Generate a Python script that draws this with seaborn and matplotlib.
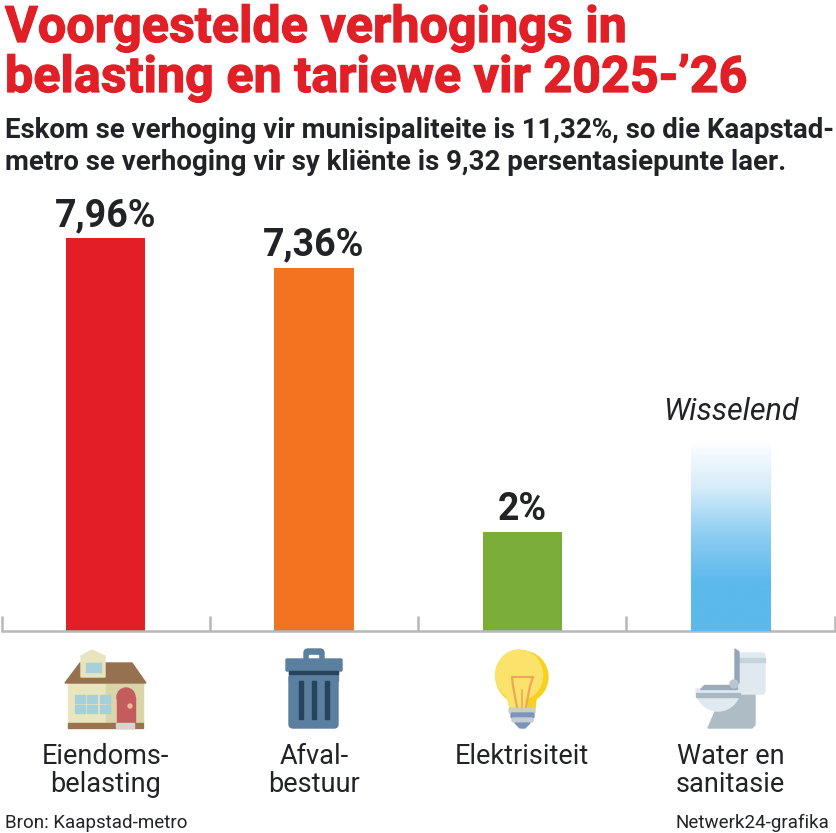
"""
Voorgestelde verhogings in belasting en tariewe vir 2025-'26
Bar chart with icons under each category.
"""

import numpy as np
import pandas as pd
import matplotlib
matplotlib.use("Agg")
import matplotlib.pyplot as plt
import matplotlib.patheffects as pe
from matplotlib.colors import LinearSegmentedColormap
from matplotlib.patches import Circle, Ellipse, FancyBboxPatch, Polygon, Rectangle, Wedge
import seaborn as sns

# Data
categories = ["Eiendoms-\nbelasting", "Afval-\nbestuur", "Elektrisiteit", "Water en\nsanitasie"]
values = [7.96, 7.36, 2.0, 3.87]  # water has no real figure, bar height read off the picture
value_labels = ["7,96%", "7,36%", "2%", "Wisselend"]
bar_colors = ["#e31e26", "#f47320", "#7aae38", "#5bb9ec"]

title_lines = ["Voorgestelde verhogings in", "belasting en tariewe vir 2025-’26"]
subtitle_lines = [
    "Eskom se verhoging vir munisipaliteite is 11,32%, so die Kaapstad-",
    "metro se verhoging vir sy kliënte is 9,32 persentasiepunte laer.",
]
source_left = "Bron: Kaapstad-metro"
source_right = "Netwerk24-grafika"

RED = "#e11f27"
DARK = "#222326"
GREY = "#b8b8b8"
W, H = 836, 833


def draw_house(ax):
    ax.add_patch(Rectangle((68, 683), 38, 40, color="#e9e6bd"))
    ax.add_patch(Rectangle((106, 683), 37, 40, color="#d9d5a9"))
    ax.add_patch(Polygon([(65, 683), (80, 663), (132, 663), (146, 683)], color="#96714f"))
    ax.add_patch(Polygon([(81, 677), (81, 656), (92, 650), (105, 656), (105, 677)], color="#e8e4bd"))
    for x in (85.5, 91, 96.5):
        ax.add_patch(Rectangle((x, 663), 4.5, 9, color="#a9cfd8"))
    for x in (75, 87, 100):
        for y in (695, 705):
            ax.add_patch(Rectangle((x, y), 10, 8, color="#a6cfdc"))
    ax.add_patch(Rectangle((117, 697), 18, 26, color="#c45c5e"))
    ax.add_patch(Circle((126, 697), 9, color="#c45c5e"))
    ax.add_patch(Circle((130, 706), 2, color="#f0b9a0"))
    ax.add_patch(Rectangle((68, 723), 75, 5, color="#9b7350"))
    ax.add_patch(Rectangle((116, 723), 18, 5, color="#d5d5d0"))


def draw_bin(ax):
    blue, navy = "#5b7f9f", "#26445e"
    ax.add_patch(FancyBboxPatch((306, 651), 16, 10, boxstyle="round,pad=2,rounding_size=4", color=blue))
    ax.add_patch(Rectangle((309, 655), 9, 5, color="white"))
    ax.add_patch(FancyBboxPatch((287, 660), 54, 10, boxstyle="round,pad=1,rounding_size=1", color=blue))
    ax.add_patch(FancyBboxPatch((293, 678), 41, 46, boxstyle="round,pad=4,rounding_size=4", color=blue))
    ax.add_patch(Rectangle((289, 671), 49, 10, color=blue))
    ax.add_patch(Rectangle((289, 671), 49, 3, color=navy))
    for x in (301, 314, 327):
        ax.add_patch(Rectangle((x - 2, 681), 4, 38, color=navy))


def draw_bulb(ax):
    ax.add_patch(Polygon([(510, 708), (535, 708), (537, 690), (508, 690)], color="#f6d21f"))
    ax.add_patch(Circle((522, 677), 26, color="#f6d21f"))
    ax.add_patch(Ellipse((519, 675), 47, 50, color="#fbe26a"))
    ax.add_patch(Polygon([(510, 708), (527, 708), (522, 692), (505, 690)], color="#fbe26a"))
    ax.plot([517, 513, 512, 533, 530, 526], [707, 686, 677, 677, 686, 707], color="#eda75a", lw=1.6)
    ax.plot([522, 522], [690, 707], color="#eda75a", lw=1.2)
    ax.add_patch(FancyBboxPatch((510, 709), 24, 3, boxstyle="round,pad=1,rounding_size=1.5", color="#c9cfc0"))
    ax.add_patch(FancyBboxPatch((512, 714), 21, 3, boxstyle="round,pad=1,rounding_size=1.5", color="#7d93bd"))
    ax.add_patch(FancyBboxPatch((513, 719), 19, 2, boxstyle="round,pad=1,rounding_size=1.5", color="#c4ccd8"))
    ax.add_patch(Polygon([(515, 723), (530, 723), (525, 728), (520, 728)], color="#7d93bd"))


def draw_toilet(ax):
    light, mid, grey = "#e1e9f0", "#c7d3dc", "#aebcc6"
    ax.add_patch(Polygon([(737, 693), (755, 693), (755, 725), (752, 728), (708, 728), (715, 712)], color=grey))
    ax.add_patch(FancyBboxPatch((741, 655), 22, 37, boxstyle="round,pad=2,rounding_size=3", color=light))
    ax.add_patch(Rectangle((739, 658), 26, 4, color=mid))
    ax.add_patch(Wedge((718, 689), 22, 0, 180, color=light))
    ax.add_patch(Rectangle((696, 693), 44, 4, color="#aab8c4"))
    ax.add_patch(Polygon([(735, 649), (739, 652), (739, 683), (735, 683)], color="#93a6b5"))
    ax.add_patch(Polygon([(704, 685), (737, 685), (737, 689), (700, 689)], color="#9aabb9"))
    ax.add_patch(Circle((734, 684), 4, color="#b9c6d0"))


def main():
    sns.set_theme(style="white")
    plt.rcParams["font.family"] = ["Roboto", "DejaVu Sans"]

    df = pd.DataFrame({"kategorie": categories, "waarde": values})

    fig = plt.figure(figsize=(W / 100, H / 100), dpi=100, facecolor="white")

    # Bars, 49.35 px per percentage point above the baseline at y=631
    ax = fig.add_axes([1.6 / W, (H - 631) / H, 833 / W, 441 / H])
    sns.barplot(
        data=df, x="kategorie", y="waarde", hue="kategorie",
        palette=bar_colors, legend=False, width=0.38, saturation=1, linewidth=0, ax=ax,
    )
    ax.set_xlabel("")
    ax.set_ylabel("")
    ax.set_yticks([])
    sns.despine(ax=ax, left=True)
    ax.spines["bottom"].set_color(GREY)
    ax.spines["bottom"].set_linewidth(1.8)

    # Water bar fades out to white
    water = ax.containers[3][0]
    fade = LinearSegmentedColormap.from_list(
        "fade", ["#ffffff", "#d5ecfa", "#8ccdf2", "#5bb9ec", "#5bb9ec"]
    )
    ax.imshow(
        np.linspace(0, 1, 256).reshape(-1, 1), cmap=fade, aspect="auto", zorder=3,
        extent=[water.get_x(), water.get_x() + water.get_width(), 0, water.get_height()],
    )
    ax.set_xlim(-0.5, 3.5)
    ax.set_ylim(0, 441 / 49.35)

    # Labels above the bars
    for container, label in zip(ax.containers, value_labels):
        if label == "Wisselend":
            ax.bar_label(container, labels=[label], padding=10, fontsize=22, style="italic",
                         color=DARK, zorder=4)
        else:
            ax.bar_label(container, labels=[label], padding=3, fontsize=27, fontweight="bold",
                         color=DARK, zorder=4)

    # Category labels below the icons, separators on the minor ticks
    ax.set_xticks(range(len(categories)))
    ax.set_xticklabels(categories, fontsize=19.5, color=DARK, linespacing=1.05)
    ax.set_xticks(np.arange(-0.5, 4, 1), minor=True)
    ax.tick_params(axis="x", which="major", length=0, pad=80.5)
    ax.tick_params(axis="x", which="minor", bottom=True, direction="in", length=11, width=1.8, color=GREY)

    # Overlay in pixel coordinates for headings and icons
    over = fig.add_axes([0, 0, 1, 1], facecolor="none")
    over.set_xlim(0, W)
    over.set_ylim(H, 0)
    over.axis("off")

    heavy = [pe.withStroke(linewidth=0.9, foreground=RED)]
    for line, y in zip(title_lines, (42, 92)):
        over.text(5, y, line, color=RED, fontsize=36.2, fontweight="bold", va="baseline", path_effects=heavy)
    for line, y in zip(subtitle_lines, (138, 170)):
        over.text(5, y, line, color=DARK, fontsize=19.9, fontweight="bold", va="baseline")
    over.text(5, 828, source_left, color=DARK, fontsize=13.5, va="baseline")
    over.text(829, 828, source_right, color=DARK, fontsize=13.5, ha="right", va="baseline")

    draw_house(over)
    draw_bin(over)
    draw_bulb(over)
    draw_toilet(over)

    fig.savefig("out.png", dpi=100)


if __name__ == "__main__":
    main()
